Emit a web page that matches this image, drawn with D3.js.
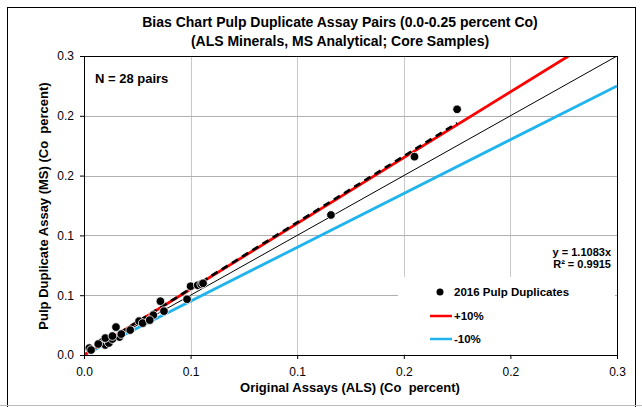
<!DOCTYPE html>
<html><head><meta charset="utf-8">
<script src="https://cdn.jsdelivr.net/npm/d3@7"></script>
<style>
html,body{margin:0;padding:0;background:#fff;}
svg{display:block;font-family:"Liberation Sans",Arial,sans-serif;}
text{white-space:pre;}
</style></head>
<body><svg id="c" width="642" height="407"></svg>
<script>
// ---- data ----
const originalALS = [0.003,0.004,0.010,0.012,0.013,0.014,0.016,0.018,0.020,0.021,0.012,0.008,
  0.031,0.033,0.039,0.043,0.045,0.058,0.060,0.064,0.066,0.067,0.026,0.016,0.037,0.139,0.186,0.210];
const duplicateMS = [0.007,0.005,0.013,0.010,0.015,0.012,0.016,0.028,0.018,0.021,0.017,0.011,
  0.034,0.032,0.040,0.054,0.044,0.056,0.069,0.070,0.071,0.072,0.025,0.019,0.035,0.1405,0.199,0.2465];
const xTicks = [0,0.06,0.12,0.18,0.24,0.30];
const xTickLabels = ["0.0","0.1","0.1","0.2","0.2","0.3"];
const yTicks = [0,0.06,0.12,0.18,0.24,0.30];
const yTickLabels = ["0.0","0.1","0.1","0.2","0.2","0.3"];
const slope = 1.1083, r2 = 0.9915;
const plusFactor = 1.1, minusFactor = 0.9;
const legendLabels = ["2016 Pulp Duplicates","+10%","-10%"];

const svg = d3.select("#c");
const M = {l:84, r:617, t:56, b:355};
const x = d3.scaleLinear().domain([0,0.3]).range([M.l,M.r]);
const y = d3.scaleLinear().domain([0,0.3]).range([M.b,M.t]);

// outer frame
svg.append("rect").attr("x",7.5).attr("y",7.5).attr("width",628).attr("height",420)
  .attr("fill","none").attr("stroke","#000").attr("stroke-width",1);
svg.append("line").attr("x1",0).attr("x2",642).attr("y1",405.5).attr("y2",405.5).attr("stroke","#bbb");

// title
svg.append("text").attr("x",340).attr("y",27).attr("text-anchor","middle")
  .attr("font-weight","bold").attr("font-size",14).text("Bias Chart Pulp Duplicate Assay Pairs (0.0-0.25 percent Co)");
svg.append("text").attr("x",340).attr("y",46).attr("text-anchor","middle")
  .attr("font-weight","bold").attr("font-size",14).text("(ALS Minerals, MS Analytical; Core Samples)");

// gridlines
const g = svg.append("g");
g.selectAll(".vg").data(xTicks.slice(1,-1)).join("line")
  .attr("x1",d=>Math.round(x(d))+0.5).attr("x2",d=>Math.round(x(d))+0.5).attr("y1",M.t).attr("y2",M.b)
  .attr("stroke","#c8c8c8").attr("stroke-width",1);
g.selectAll(".hg").data(yTicks.slice(1,-1)).join("line")
  .attr("y1",d=>Math.round(y(d))+0.5).attr("y2",d=>Math.round(y(d))+0.5).attr("x1",M.l).attr("x2",M.r)
  .attr("stroke","#b0b0b0").attr("stroke-width",1);

// axes
const xAxis = d3.axisBottom(x).tickValues(xTicks).tickFormat((d,i)=>xTickLabels[i]).tickSize(4).tickPadding(6);
const yAxis = d3.axisLeft(y).tickValues(yTicks).tickFormat((d,i)=>yTickLabels[i]).tickSize(4).tickPadding(6);
const gx = svg.append("g").attr("transform",`translate(0,${M.b})`).call(xAxis);
const gy = svg.append("g").attr("transform",`translate(${M.l},0)`).call(yAxis);
[gx,gy].forEach(a=>{a.select(".domain").remove();
  a.selectAll("text").attr("font-size",12).attr("font-family","Liberation Sans, Arial").attr("fill","#000");});
gx.selectAll("text").attr("dy","0.95em");

// clip
svg.append("clipPath").attr("id","cp").append("rect").attr("x",M.l).attr("y",M.t).attr("width",M.r-M.l).attr("height",M.b-M.t);
const pg = svg.append("g").attr("clip-path","url(#cp)");

// reference lines
pg.append("line").attr("x1",x(0)).attr("y1",y(0)).attr("x2",x(0.3)).attr("y2",y(0.3)).attr("stroke","#000").attr("stroke-width",1);
pg.append("line").attr("x1",x(0)).attr("y1",y(0)).attr("x2",x(0.3)).attr("y2",y(0.3*minusFactor)).attr("stroke","#1fb4ee").attr("stroke-width",2.8);
pg.append("line").attr("x1",x(0)).attr("y1",y(0)).attr("x2",x(0.3/plusFactor)).attr("y2",y(0.3)).attr("stroke","#ff0000").attr("stroke-width",2.8);

// trendline
const xmin = d3.min(originalALS), xmax = d3.max(originalALS);
pg.append("line").attr("x1",x(xmin)).attr("y1",y(xmin*slope)).attr("x2",x(xmax)).attr("y2",y(xmax*slope))
  .attr("stroke","#000").attr("stroke-width",2.6).attr("stroke-dasharray","7,5");

// points
svg.append("g").selectAll("circle").data(originalALS).join("circle")
  .attr("cx",(d)=>x(d)).attr("cy",(d,i)=>y(duplicateMS[i])).attr("r",4.3)
  .attr("fill","#000").attr("stroke","#fff").attr("stroke-width",0.8);

// plot frame
svg.append("rect").attr("x",M.l+0.5).attr("y",M.t+0.5).attr("width",M.r-M.l).attr("height",M.b-M.t)
  .attr("fill","none").attr("stroke","#000").attr("stroke-width",1);

// N label
svg.append("text").attr("x",95).attr("y",83).attr("font-weight","bold").attr("font-size",13).text("N = 28 pairs");

// equation
svg.append("text").attr("x",611).attr("y",256).attr("text-anchor","end").attr("font-weight","bold").attr("font-size",11)
  .text(`y = ${slope}x`);
svg.append("text").attr("x",611).attr("y",268).attr("text-anchor","end").attr("font-weight","bold").attr("font-size",11)
  .text(`R² = ${r2}`);

// legend
const lg = svg.append("g");
lg.append("rect").attr("x",398).attr("y",277).attr("width",217).attr("height",77).attr("fill","#fff");
lg.append("circle").attr("cx",440).attr("cy",292).attr("r",3.5).attr("fill","#000");
lg.append("line").attr("x1",430).attr("x2",452).attr("y1",316).attr("y2",316).attr("stroke","#ff0000").attr("stroke-width",2.5);
lg.append("line").attr("x1",430).attr("x2",452).attr("y1",339).attr("y2",339).attr("stroke","#1fb4ee").attr("stroke-width",2.5);
[292,316,339].forEach((yy,i)=>{
  lg.append("text").attr("x",454).attr("y",yy+4).attr("font-weight","bold").attr("font-size",11.5).text(legendLabels[i]);
});

// axis titles
svg.append("text").attr("x",350).attr("y",392).attr("text-anchor","middle").attr("font-weight","bold").attr("font-size",13)
  .text("Original Assays (ALS) (Co\u00a0 percent)");
svg.append("text").attr("transform","translate(48,206) rotate(-90)").attr("text-anchor","middle").attr("font-weight","bold").attr("font-size",13)
  .text("Pulp Duplicate Assay (MS) (Co\u00a0 percent)");
</script></body></html>
